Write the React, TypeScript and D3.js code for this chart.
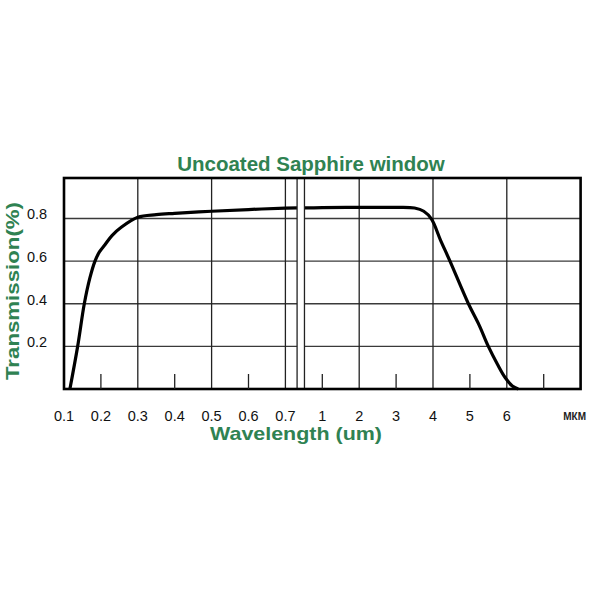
import React from "react";
import * as d3 from "d3";

// ---- data ----
const wavelengthUm = [
  0.116, 0.137, 0.155, 0.17, 0.184, 0.196, 0.211, 0.23, 0.256, 0.3, 0.35, 0.4, 0.5, 0.6, 0.7,
  0.8, 0.9, 1, 2, 3, 3.5, 3.75, 3.96, 4.2, 4.46, 4.96, 5.25, 5.5, 5.75, 5.95, 6.15, 6.31,
];
const transmission = [
  0, 0.2, 0.4, 0.52, 0.6, 0.643, 0.677, 0.72, 0.76, 0.806, 0.818, 0.824, 0.834, 0.842, 0.849,
  0.85, 0.85, 0.851, 0.852, 0.852, 0.849, 0.834, 0.797, 0.7, 0.6, 0.4, 0.3, 0.2, 0.115, 0.055, 0.014, 0,
];
const xLabels = ["0.1", "0.2", "0.3", "0.4", "0.5", "0.6", "0.7", "1", "2", "3", "4", "5", "6"];
const xLabelValues = [0.1, 0.2, 0.3, 0.4, 0.5, 0.6, 0.7, 1, 2, 3, 4, 5, 6];
const xGridValues = [0.3, 0.5, 0.7, 2, 4, 6];
const xMinorTicks = [0.2, 0.4, 0.6, 1, 3, 5, 7];
const yTickValues = [0.2, 0.4, 0.6, 0.8];
const yTickLabels = ["0.2", "0.4", "0.6", "0.8"];
const unitLabel = "МКМ";
const title = "Uncoated Sapphire window";
const xTitle = "Wavelength (um)";
const yTitle = "Transmission(%)";

const GREEN = "#2f8252";

export default function App() {
  const x0 = 64;
  const u = 36.9;
  // broken axis: 0.1..0.7 in steps of 0.1 then 1..8 in steps of 1, each one slot wide
  const x = d3
    .scaleLinear()
    .domain([0.1, 0.7, 1, 8])
    .range([x0, x0 + 6 * u, x0 + 7 * u, x0 + 14 * u]);
  const y = d3.scaleLinear().domain([0, 0.99]).range([389, 178]);

  const [left, right] = [x(0.1), x(8)];
  const [bottom, top] = [y(0), y(0.99)];
  const breakL = x(0.795);
  const breakR = x(0.855);

  const pts: [number, number][] = wavelengthUm.map((w, i) => [w, transmission[i]]);
  const line = d3
    .line<[number, number]>()
    .x((d) => x(d[0]))
    .y((d) => y(d[1]))
    .curve(d3.curveCatmullRom.alpha(0.5));

  const numFont = "'Liberation Sans Narrow', 'Arial Narrow', 'Liberation Sans', Arial, sans-serif";
  const txtFont = "'Liberation Sans', Arial, Helvetica, sans-serif";

  return (
    <svg
      width={600}
      height={600}
      style={{ position: "absolute", left: 0, top: 0, background: "#fff" }}
    >
      <rect x={0} y={0} width={600} height={600} fill="#fff" />
      {/* horizontal grid */}
      {yTickValues.map((v) => (
        <line key={"h" + v} x1={left} x2={right} y1={y(v)} y2={y(v)} stroke="#3a3a3a" strokeWidth={1.3} />
      ))}
      {/* vertical grid */}
      {xGridValues.map((v) => (
        <line key={"v" + v} x1={x(v)} x2={x(v)} y1={top} y2={bottom} stroke="#222" strokeWidth={1.3} />
      ))}
      {/* curve */}
      <path d={line(pts) || ""} fill="none" stroke="#000" strokeWidth={3.2} strokeLinejoin="round" />
      {/* axis break */}
      <rect x={breakL} y={top} width={breakR - breakL} height={bottom - top} fill="#fff" />
      <line x1={breakL} x2={breakL} y1={top} y2={bottom} stroke="#222" strokeWidth={1.3} />
      <line x1={breakR} x2={breakR} y1={top} y2={bottom} stroke="#222" strokeWidth={1.3} />
      {/* frame */}
      <rect x={left} y={top} width={right - left} height={bottom - top} fill="none" stroke="#000" strokeWidth={2.6} />
      {/* minor ticks */}
      {xMinorTicks.map((v) => (
        <line key={"t" + v} x1={x(v)} x2={x(v)} y1={bottom} y2={bottom - 15} stroke="#222" strokeWidth={1.3} />
      ))}
      {/* y tick labels */}
      {yTickValues.map((v, i) => (
        <text
          key={"yl" + v}
          x={37}
          y={y(v) - 3}
          textAnchor="middle"
          dominantBaseline="middle"
          fontFamily={numFont}
          fontSize={14.5}
          fill="#111"
        >
          {yTickLabels[i]}
        </text>
      ))}
      {/* x tick labels */}
      {xLabelValues.map((v, i) => (
        <text
          key={"xl" + v}
          x={x(v)}
          y={417}
          textAnchor="middle"
          dominantBaseline="middle"
          fontFamily={numFont}
          fontSize={14.5}
          fill="#111"
        >
          {xLabels[i]}
        </text>
      ))}
      <text
        x={586}
        y={417}
        textAnchor="end"
        dominantBaseline="middle"
        fontFamily={txtFont}
        fontSize={10}
        fontWeight="bold"
        fill="#222"
      >
        {unitLabel}
      </text>
      {/* titles */}
      <text x={311} y={171} textAnchor="middle" fontFamily={txtFont} fontSize={20.5} fontWeight="bold" fill={GREEN}>
        {title}
      </text>
      <text
        x={296}
        y={440}
        textAnchor="middle"
        fontFamily={txtFont}
        fontSize={19}
        fontWeight="bold"
        fill={GREEN}
        textLength={172}
        lengthAdjust="spacingAndGlyphs"
      >
        {xTitle}
      </text>
      <text
        transform={`translate(19,291) rotate(-90)`}
        textAnchor="middle"
        fontFamily={txtFont}
        fontSize={17.5}
        fontWeight="bold"
        fill={GREEN}
        textLength={178}
        lengthAdjust="spacingAndGlyphs"
      >
        {yTitle}
      </text>
    </svg>
  );
}
